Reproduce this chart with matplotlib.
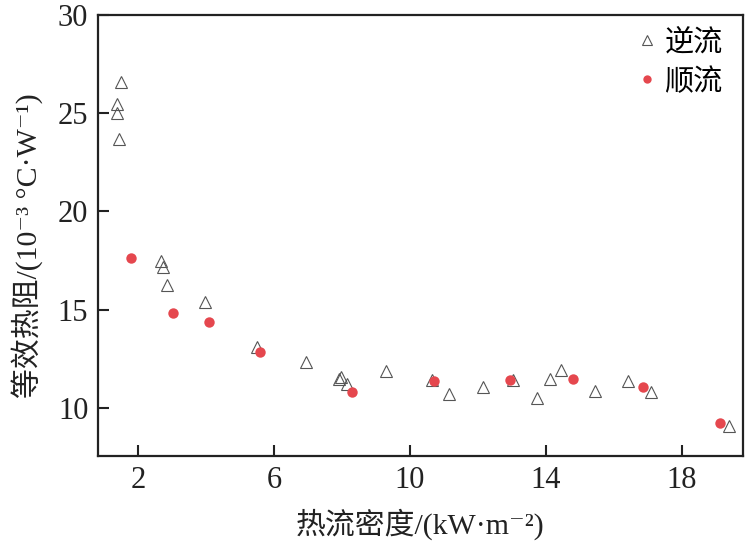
import matplotlib
matplotlib.use("Agg")
import matplotlib.pyplot as plt

plt.rcParams['font.family'] = ['Liberation Serif', 'DejaVu Serif', 'Noto Sans CJK SC']

# 逆流 (counter flow)
counter_x = [1.51, 1.38, 1.38, 1.44, 2.66, 2.73, 2.85, 3.96, 5.50, 6.93, 7.96, 7.92,
             8.16, 9.29, 10.65, 11.14, 12.14, 13.03, 13.75, 14.12, 14.43, 15.43,
             16.42, 17.10, 19.39]
counter_y = [26.6, 25.46, 25.0, 23.7, 17.46, 17.17, 16.24, 15.39, 13.11, 12.32, 11.58, 11.45,
             11.24, 11.89, 11.44, 10.73, 11.07, 11.41, 10.48, 11.49, 11.95, 10.85,
             11.39, 10.82, 9.10]
# 顺流 (parallel flow)
parallel_x = [1.80, 3.04, 4.08, 5.58, 8.29, 10.71, 12.94, 14.81, 16.85, 19.13]
parallel_y = [17.63, 14.85, 14.38, 12.83, 10.83, 11.36, 11.44, 11.46, 11.04, 9.22]

xticks = [2, 6, 10, 14, 18]
yticks = [10, 15, 20, 25, 30]

fig = plt.figure(figsize=(7.5, 5.43), dpi=100)
ax = fig.add_axes([0.1307, 0.1602, 0.86, 0.8122])

ax.plot(counter_x, counter_y, linestyle='none', marker='^', markersize=8.5,
        markerfacecolor='none', markeredgecolor='#555555', markeredgewidth=0.8,
        label='逆流')
ax.plot(parallel_x, parallel_y, linestyle='none', marker='o', markersize=7.5,
        markerfacecolor='#E5474E', markeredgecolor='#E5474E', markeredgewidth=0,
        label='顺流')

ax.set_xlim(0.82, 19.8)
ax.set_ylim(7.55, 30)
ax.set_xticks(xticks)
ax.set_yticks(yticks)
ax.tick_params(direction='in', length=8, width=1.5, labelsize=22, colors='#222222',
               pad=7, top=False, right=False)
for s in ax.spines.values():
    s.set_linewidth(1.6)
    s.set_color('#222222')

ax.set_xlabel('热流密度/(kW·m⁻²)', fontsize=21.5, color='#222222')
ax.set_ylabel('等效热阻/(10⁻³ °C·W⁻¹)', fontsize=21.5, color='#222222')
ax.xaxis.set_label_coords(0.5, -0.12)
ax.yaxis.set_label_coords(-0.085, 0.476)

leg = ax.legend(loc='upper right', frameon=False, fontsize=21, handletextpad=0.2,
                borderaxespad=0.3, labelspacing=0.4, markerscale=0.8,
                handlelength=0.8, bbox_to_anchor=(1.0, 1.015))

fig.savefig('out.png', dpi=100)
